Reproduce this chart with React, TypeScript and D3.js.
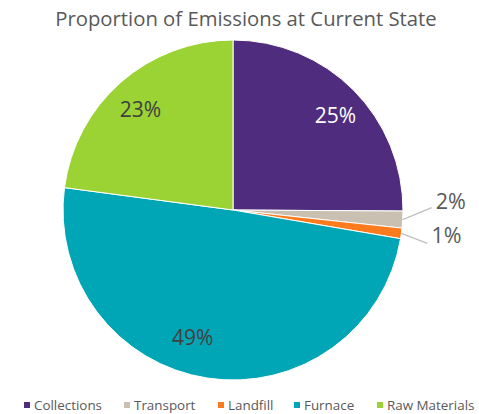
import React, { useEffect, useRef } from 'react';
import * as d3 from 'd3';

const categories = ['Collections', 'Transport', 'Landfill', 'Furnace', 'Raw Materials'];
const shares = [25.1, 1.6, 1.0, 49.4, 22.9];
const colors = ['#4f2c7e', '#c9c0b1', '#fe7b1d', '#00a6b5', '#9bd234'];
const labelColors = ['#ffffff', '#595959', '#595959', '#404040', '#404040'];
const title = 'Proportion of Emissions at Current State';

interface Slice {
    name: string;
    value: number;
}

const App: React.FC = () => {
    const ref = useRef<HTMLDivElement>(null);

    useEffect(() => {
        if (!ref.current) return;
        const width = 479;
        const height = 414;
        const cx = 233;
        const cy = 210;
        const radius = 170;

        const data: Slice[] = categories.map((name, i) => ({ name, value: shares[i] }));
        const total = d3.sum(data, (d) => d.value);

        const svg = d3
            .select(ref.current)
            .append('svg')
            .attr('width', width)
            .attr('height', height)
            .style('position', 'absolute')
            .style('left', '0px')
            .style('top', '0px')
            .style('font-family', '"Open Sans", sans-serif');

        svg.append('rect').attr('width', width).attr('height', height).attr('fill', '#fff');

        // Title
        svg
            .append('text')
            .attr('x', 246)
            .attr('y', 26)
            .attr('text-anchor', 'middle')
            .attr('font-size', 20.3)
            .attr('fill', '#595959')
            .text(title);

        const pie = d3
            .pie<Slice>()
            .sort(null)
            .value((d) => d.value);
        const arcs = pie(data);

        const arc = d3.arc<d3.PieArcDatum<Slice>>().innerRadius(0).outerRadius(radius);
        const labelArc = d3
            .arc<d3.PieArcDatum<Slice>>()
            .innerRadius(radius * 0.8)
            .outerRadius(radius * 0.8);

        const g = svg.append('g').attr('transform', `translate(${cx},${cy})`);

        g.selectAll('path.slice')
            .data(arcs)
            .enter()
            .append('path')
            .attr('class', 'slice')
            .attr('d', arc)
            .attr('fill', (d, i) => colors[i])
            .attr('stroke', '#fff')
            .attr('stroke-width', 1);

        const pct = (d: d3.PieArcDatum<Slice>) => `${Math.round((d.value / total) * 100)}%`;

        // Excel's "best fit" placement differs a little from the centroid
        const nudge = [[6, 1], [0, 0], [0, 0], [-20, -7], [-3, 2]];

        // Labels: small slices go outside with leader lines
        arcs.forEach((d, i) => {
            const mid = (d.startAngle + d.endAngle) / 2;
            const small = d.value / total < 0.05;
            if (!small) {
                const [x, y] = labelArc.centroid(d);
                g.append('text')
                    .attr('x', x + nudge[i][0])
                    .attr('y', y + nudge[i][1])
                    .attr('dy', '0.35em')
                    .attr('text-anchor', 'middle')
                    .attr('font-size', 21)
                    .attr('fill', labelColors[i])
                    .text(pct(d));
            } else {
                const x0 = Math.sin(mid) * radius;
                const y0 = -Math.cos(mid) * radius;
                const up = i === 1;
                const x1 = x0 + (up ? 29 : 26);
                const y1 = y0 + (up ? -12 : 10);
                g.append('line')
                    .attr('x1', x0)
                    .attr('y1', y0)
                    .attr('x2', x1)
                    .attr('y2', y1)
                    .attr('stroke', '#bfbfbf')
                    .attr('stroke-width', 1.2);
                g.append('text')
                    .attr('x', x1 + 4)
                    .attr('y', y1 + (up ? 1 : 0))
                    .attr('font-size', 21.5)
                    .attr('fill', '#595959')
                    .text(pct(d));
            }
        });

        // Legend
        const legendX = [24, 124, 218, 294, 377];
        const legend = svg.append('g');
        categories.forEach((name, i) => {
            legend
                .append('rect')
                .attr('x', legendX[i])
                .attr('y', 402)
                .attr('width', 6)
                .attr('height', 6)
                .attr('fill', colors[i]);
            legend
                .append('text')
                .attr('x', legendX[i] + 10)
                .attr('y', 410)
                .attr('font-size', 13.4)
                .attr('fill', '#595959')
                .text(name);
        });

        return () => {
            svg.remove();
        };
    }, []);

    return <div ref={ref} />;
};

export default App;
